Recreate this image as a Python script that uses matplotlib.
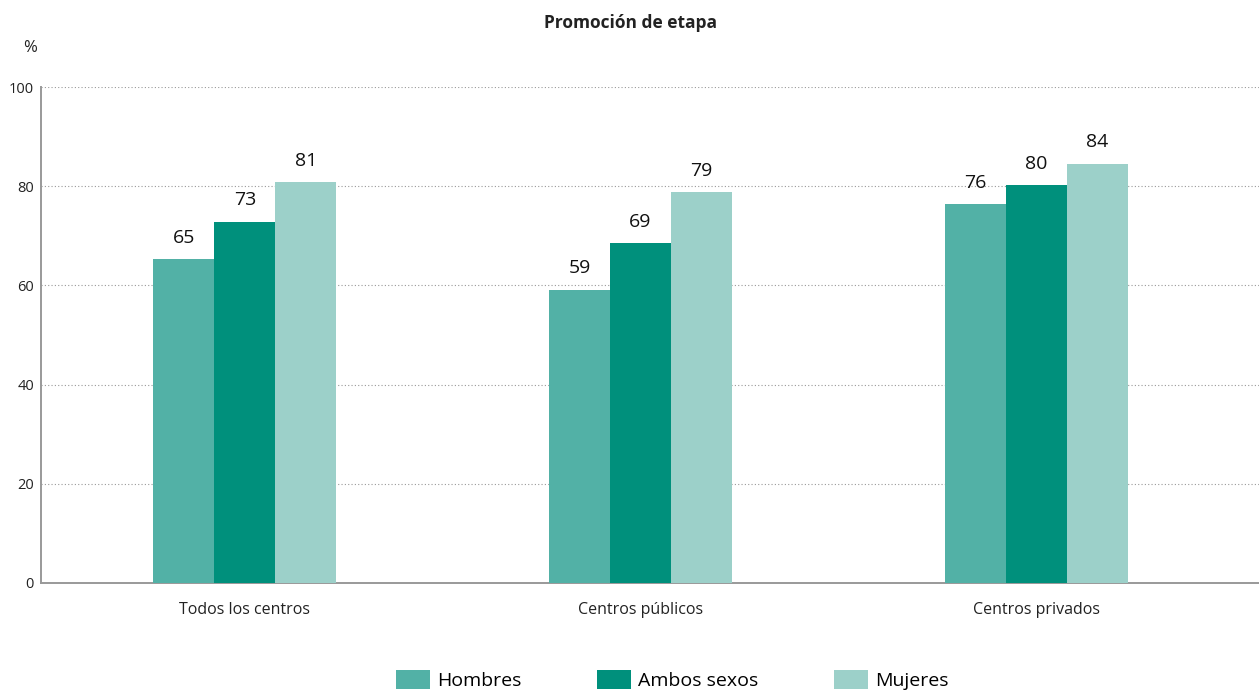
import matplotlib.pyplot as plt
import numpy as np

plt.rcParams['font.family'] = ['Open Sans', 'DejaVu Sans']

categories = ['Todos los centros', 'Centros públicos', 'Centros privados']
series = ['Hombres', 'Ambos sexos', 'Mujeres']
hombres = [65.3, 59.1, 76.4]
ambos = [72.8, 68.5, 80.2]
mujeres = [80.8, 78.8, 84.5]
labels_h = [65, 59, 76]
labels_a = [73, 69, 80]
labels_m = [81, 79, 84]
colors = ['#52B1A6', '#00907C', '#9CD0C9']

fig = plt.figure(figsize=(12.59, 6.91), dpi=100)
ax = fig.add_axes([0.0326, 0.1563, 0.9674, 0.7177])

x = np.arange(len(categories))
width = 0.154
for i, (vals, labs) in enumerate(zip([hombres, ambos, mujeres], [labels_h, labels_a, labels_m])):
    bars = ax.bar(x + (i - 1) * width, vals, width, color=colors[i], label=series[i], zorder=3)
    for b, lab in zip(bars, labs):
        ax.annotate(str(lab), (b.get_x() + b.get_width() / 2, b.get_height()),
                    xytext=(0, 9), textcoords='offset points', ha='center', va='bottom',
                    fontsize=14, color='#111111')

ax.set_xlim(-0.515, 2.563)
ax.set_ylim(0, 100)
ax.set_yticks([0, 20, 40, 60, 80, 100])
ax.yaxis.grid(True, linestyle=(0, (1, 2)), color='#999999', linewidth=0.8, zorder=0)
ax.set_xticks(x)
ax.set_xticklabels(categories, fontsize=11.5)
ax.tick_params(axis='both', length=0, colors='#222222')
ax.tick_params(axis='y', labelsize=10.5, pad=5)
ax.tick_params(axis='x', pad=14)
for s in ['top', 'right']:
    ax.spines[s].set_visible(False)
for s in ['left', 'bottom']:
    ax.spines[s].set_color('#999999')
    ax.spines[s].set_linewidth(1.4)

fig.text(0.501, 0.966, 'Promoción de etapa', ha='center', va='center', fontsize=12.5, fontweight='bold', color='#222222')
fig.text(0.024, 0.93, '%', ha='center', va='center', fontsize=12, color='#222222')

fig.legend(loc='center', bbox_to_anchor=(0.534, 0.016), ncol=3, frameon=False,
           fontsize=14, handlelength=1.75, handleheight=1.1, columnspacing=3.9, handletextpad=0.35)

plt.savefig('out.png', dpi=100)
